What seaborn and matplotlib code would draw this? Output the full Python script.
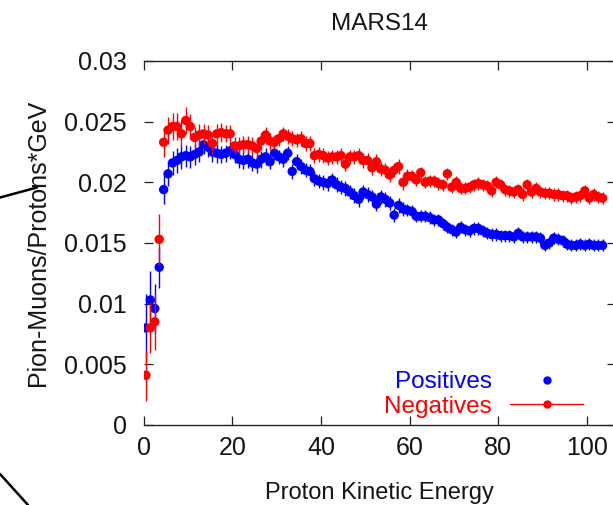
import matplotlib
matplotlib.use("Agg")
import matplotlib.pyplot as plt
from matplotlib.lines import Line2D
import seaborn as sns
import numpy as np

energy = [0.5, 1.5, 2.5, 3.5, 4.5, 5.5, 6.5, 7.5, 8.5, 9.5,
          10.5, 11.5, 12.5, 13.5, 14.5, 15.5, 16.5, 17.5, 18.5, 19.5,
          20.5, 21.5, 22.5, 23.5, 24.5, 25.5, 26.5, 27.5, 28.5, 29.5,
          30.5, 31.5, 32.5, 33.5, 34.5, 35.5, 36.5, 37.5, 38.5, 39.5,
          40.5, 41.5, 42.5, 43.5, 44.5, 45.5, 46.5, 47.5, 48.5, 49.5,
          50.5, 51.5, 52.5, 53.5, 54.5, 55.5, 56.5, 57.5, 58.5, 59.5,
          60.5, 61.5, 62.5, 63.5, 64.5, 65.5, 66.5, 67.5, 68.5, 69.5,
          70.5, 71.5, 72.5, 73.5, 74.5, 75.5, 76.5, 77.5, 78.5, 79.5,
          80.5, 81.5, 82.5, 83.5, 84.5, 85.5, 86.5, 87.5, 88.5, 89.5,
          90.5, 91.5, 92.5, 93.5, 94.5, 95.5, 96.5, 97.5, 98.5, 99.5,
          100.5, 101.5, 102.5, 103.5]

positives = [0.0080, 0.0103, 0.0096, 0.0130, 0.0194, 0.0207, 0.0216, 0.0218, 0.0221, 0.0222,
             0.0221, 0.0223, 0.0225, 0.0231, 0.0229, 0.0225, 0.0224, 0.0223, 0.0224, 0.0226,
             0.0223, 0.0219, 0.0218, 0.0219, 0.0216, 0.0215, 0.0219, 0.0221, 0.0217, 0.0224,
             0.0221, 0.0219, 0.0224, 0.0209, 0.0217, 0.0213, 0.0210, 0.0209, 0.0203, 0.0201,
             0.0200, 0.0199, 0.0202, 0.0198, 0.0196, 0.0195, 0.0192, 0.0189, 0.0186, 0.0192,
             0.0190, 0.0188, 0.0182, 0.0188, 0.0186, 0.0183, 0.0173, 0.0181, 0.0178, 0.0177,
             0.0176, 0.0172, 0.0172, 0.0172, 0.0171, 0.0169, 0.0169, 0.0166, 0.0163, 0.0161,
             0.0159, 0.0163, 0.0161, 0.0160, 0.0162, 0.0162, 0.0160, 0.0158, 0.0157, 0.0157,
             0.0156, 0.0156, 0.0156, 0.0155, 0.0158, 0.0155, 0.0155, 0.0155, 0.0155, 0.0154,
             0.0148, 0.0150, 0.0154, 0.0153, 0.0152, 0.0149, 0.0148, 0.0148, 0.0149, 0.0148,
             0.0149, 0.0148, 0.0148, 0.0148]

positives_err = [0.0028, 0.0024, 0.0020, 0.0017, 0.0012, 0.0010, 0.0010, 0.0010, 0.0010, 0.0009,
                 0.0009, 0.0009, 0.0008, 0.0008, 0.0008, 0.0008, 0.0008, 0.0007, 0.0007, 0.0007,
                 0.0007, 0.0007, 0.0007, 0.0007, 0.0007, 0.0007, 0.0007, 0.0007, 0.0006, 0.0006,
                 0.0006, 0.0006, 0.0006, 0.0006, 0.0006, 0.0006, 0.0006, 0.0006, 0.0006, 0.0006,
                 0.0006, 0.0006, 0.0006, 0.0006, 0.0006, 0.0006, 0.0006, 0.0006, 0.0006, 0.0006,
                 0.0006, 0.0006, 0.0006, 0.0006, 0.0006, 0.0006, 0.0006, 0.0006, 0.0006, 0.0005,
                 0.0005, 0.0005, 0.0005, 0.0005, 0.0005, 0.0005, 0.0005, 0.0005, 0.0005, 0.0005,
                 0.0005, 0.0005, 0.0005, 0.0005, 0.0005, 0.0005, 0.0005, 0.0005, 0.0005, 0.0005,
                 0.0005, 0.0005, 0.0005, 0.0005, 0.0005, 0.0005, 0.0005, 0.0005, 0.0005, 0.0005,
                 0.0005, 0.0005, 0.0005, 0.0005, 0.0005, 0.0005, 0.0005, 0.0005, 0.0005, 0.0005,
                 0.0005, 0.0005, 0.0005, 0.0005]

negatives = [0.0041, 0.0080, 0.0085, 0.0153, 0.0233, 0.0243, 0.0246, 0.0246, 0.0240, 0.0251,
             0.0246, 0.0237, 0.0239, 0.0240, 0.0239, 0.0232, 0.0240, 0.0241, 0.0240, 0.0240,
             0.0230, 0.0230, 0.0231, 0.0231, 0.0230, 0.0228, 0.0234, 0.0239, 0.0234, 0.0233,
             0.0236, 0.0240, 0.0238, 0.0236, 0.0235, 0.0236, 0.0232, 0.0232, 0.0222, 0.0223,
             0.0222, 0.0220, 0.0221, 0.0221, 0.0222, 0.0215, 0.0221, 0.0221, 0.0222, 0.0218,
             0.0218, 0.0212, 0.0217, 0.0211, 0.0210, 0.0206, 0.0210, 0.0213, 0.0200, 0.0205,
             0.0205, 0.0202, 0.0208, 0.0200, 0.0201, 0.0201, 0.0199, 0.0198, 0.0207, 0.0196,
             0.0200, 0.0195, 0.0195, 0.0196, 0.0198, 0.0199, 0.0198, 0.0197, 0.0193, 0.0200,
             0.0198, 0.0194, 0.0193, 0.0192, 0.0194, 0.0190, 0.0198, 0.0192, 0.0195, 0.0192,
             0.0191, 0.0191, 0.0190, 0.0190, 0.0189, 0.0189, 0.0187, 0.0188, 0.0189, 0.0193,
             0.0187, 0.0190, 0.0188, 0.0187]

negatives_err = [0.0021, 0.0021, 0.0023, 0.0021, 0.0012, 0.0011, 0.0011, 0.0011, 0.0011, 0.0011,
                 0.0010, 0.0009, 0.0009, 0.0008, 0.0008, 0.0008, 0.0008, 0.0008, 0.0007, 0.0007,
                 0.0007, 0.0007, 0.0007, 0.0007, 0.0007, 0.0007, 0.0007, 0.0007, 0.0007, 0.0006,
                 0.0006, 0.0006, 0.0006, 0.0006, 0.0006, 0.0006, 0.0006, 0.0006, 0.0006, 0.0006,
                 0.0006, 0.0006, 0.0006, 0.0006, 0.0006, 0.0006, 0.0006, 0.0006, 0.0006, 0.0006,
                 0.0006, 0.0006, 0.0006, 0.0006, 0.0006, 0.0006, 0.0006, 0.0006, 0.0006, 0.0006,
                 0.0005, 0.0005, 0.0005, 0.0005, 0.0005, 0.0005, 0.0005, 0.0005, 0.0005, 0.0005,
                 0.0005, 0.0005, 0.0005, 0.0005, 0.0005, 0.0005, 0.0005, 0.0005, 0.0005, 0.0005,
                 0.0005, 0.0005, 0.0005, 0.0005, 0.0005, 0.0005, 0.0005, 0.0005, 0.0005, 0.0005,
                 0.0005, 0.0005, 0.0005, 0.0005, 0.0005, 0.0005, 0.0005, 0.0005, 0.0005, 0.0005,
                 0.0005, 0.0005, 0.0005, 0.0005]

x_ticks = [0, 20, 40, 60, 80, 100]
y_ticks = [0, 0.005, 0.01, 0.015, 0.02, 0.025, 0.03]
y_tick_labels = ["0", "0.005", "0.01", "0.015", "0.02", "0.025", "0.03"]

BLUE = "#0000ff"
RED = "#ff0000"
AX_COL = "#222222"
TXT = "#151515"

sns.set_theme(style="white")
plt.rcParams["font.family"] = ["Liberation Sans", "DejaVu Sans"]

fig = plt.figure(figsize=(6.13, 5.05), dpi=100)
ax = fig.add_axes([143.7 / 613, 80 / 505, 106.5 * 4.433 / 613, 364 / 505])

ax.errorbar(energy, positives, yerr=positives_err, fmt="none", ecolor=BLUE, elinewidth=1.0, capsize=0, zorder=2)
sns.scatterplot(x=energy, y=positives, color=BLUE, s=46, edgecolor="none", linewidth=0, ax=ax, zorder=3, legend=False)
ax.errorbar(energy, negatives, yerr=negatives_err, fmt="none", ecolor=RED, elinewidth=1.0, capsize=0, zorder=4)
sns.scatterplot(x=energy, y=negatives, color=RED, s=46, edgecolor="none", linewidth=0, ax=ax, zorder=5, legend=False)

ax.set_xlim(0, 106.5)
ax.set_ylim(0, 0.03)
ax.set_xticks(x_ticks)
ax.set_xticklabels([str(t) for t in x_ticks])
ax.set_yticks(y_ticks)
ax.set_yticklabels(y_tick_labels)

for side in ["top", "bottom", "right"]:
    ax.spines[side].set_visible(True)
    ax.spines[side].set_color(AX_COL)
    ax.spines[side].set_linewidth(1.0)
ax.spines["left"].set_visible(False)

ax.tick_params(axis="both", which="major", direction="in", length=6.5, width=0.9,
               color=AX_COL, labelsize=18, labelcolor=TXT,
               top=True, right=True, left=True, bottom=True)
ax.tick_params(axis="y", pad=12)
ax.tick_params(axis="x", pad=8)

ax.set_xlabel("Proton Kinetic Energy", fontsize=17, color=TXT, labelpad=16)
ax.set_ylabel("Pion-Muons/Protons*GeV", fontsize=18, color=TXT, labelpad=10)
ax.set_title("MARS14", fontsize=17.5, color=TXT, pad=22)

h_pos = Line2D([], [], color=BLUE, marker="o", linestyle="none", markersize=6, markeredgewidth=0)
h_neg = Line2D([], [], color=RED, marker="o", linestyle="-", linewidth=1.0, markersize=6, markeredgewidth=0)
leg = ax.legend([h_pos, h_neg], ["Positives", "Negatives"], loc="lower right",
                bbox_to_anchor=(583 / 613, (505 - 418) / 505), bbox_transform=fig.transFigure,
                frameon=False, markerfirst=False, handlelength=3.0, handletextpad=0.75,
                labelspacing=0.12, borderpad=0, borderaxespad=0, fontsize=17.5,
                labelcolor=[BLUE, RED])

fig.add_artist(Line2D([0, 37 / 613], [1 - 197.5 / 505, 1 - 187.5 / 505], transform=fig.transFigure,
                      color="black", linewidth=1.8))
fig.add_artist(Line2D([0, 28 / 613], [1 - 474 / 505, 1 - 505 / 505], transform=fig.transFigure,
                      color="black", linewidth=1.8))

fig.savefig("out.png", dpi=100)
